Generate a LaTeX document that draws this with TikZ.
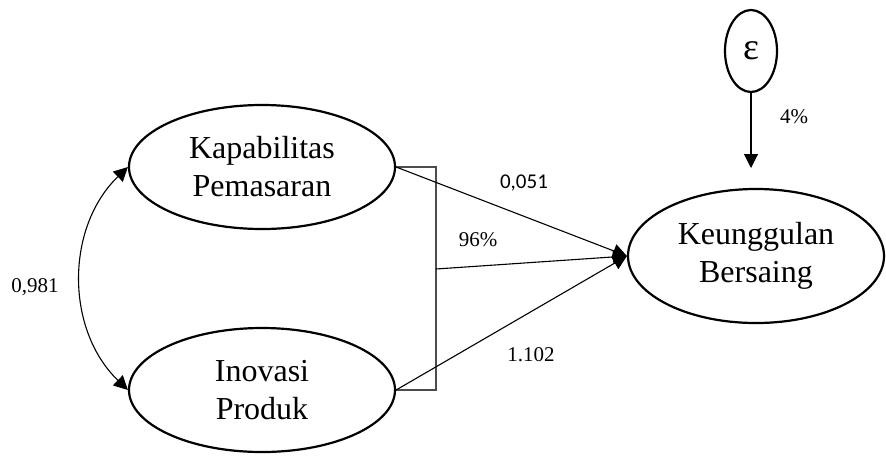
\documentclass[tikz,border=0pt]{standalone}
\usepackage{fontspec}
\setmainfont{Liberation Serif}
\newfontfamily\calfont{Carlito}
\usetikzlibrary{shapes.geometric,arrows.meta}
\begin{document}
\begin{tikzpicture}[x=1pt,y=-1pt,
    latent/.style={ellipse,draw,line width=2.2pt,align=center,inner sep=0pt,
        font=\fontsize{32}{38}\selectfont},
    path/.style={-{Triangle[length=14pt,width=14pt]},line width=1.1pt},
    lbl/.style={font=\fontsize{21}{25}\selectfont}]
    \useasboundingbox (0,0) rectangle (886,456);
    \begin{scope}[every node/.style={latent}]
        \node (kp) [minimum width=266pt,minimum height=124pt] at (262,167) {Kapabilitas\\Pemasaran};
        \node (ip) [minimum width=266pt,minimum height=124pt] at (262,390) {Inovasi\\Produk};
        \node (kb) [minimum width=256pt,minimum height=134pt] at (756,256) {Keunggulan\\Bersaing};
        \node (eps) [minimum width=52pt,minimum height=82pt,font=\fontsize{38}{44}\selectfont] at (751,51) {ε};
    \end{scope}
    \coordinate (tip) at (kb.west);
    \coordinate (bt) at (436,167);
    \coordinate (bb) at (436,390);
    \coordinate (bm) at (436,269);
    \coordinate (ein) at (751,168);
    % bracket
    \draw[line width=1.4pt,color=black!70] (kp.east) -- (bt) -- (bb) -- (ip.east);
    \begin{scope}[every edge/.style={draw,path}]
        \path
            (kp.east) edge (tip)
            (bm) edge (tip)
            (ip.east) edge (tip)
            (eps.south) edge (ein)
            (kp.west) edge [{Triangle[length=14pt,width=14pt]}-{Triangle[length=14pt,width=14pt]},bend right=46] (ip.west);
    \end{scope}
    \node (r1) [lbl] at (35,287) {0,981};
    \node (r2) [lbl,font=\calfont\fontsize{21}{25}\selectfont] at (524,183) {0,051};
    \node (r3) [lbl] at (478,240) {96\%};
    \node (r4) [lbl] at (531,355) {1.102};
    \node (r5) [lbl] at (794,117) {4\%};
\end{tikzpicture}
\end{document}
